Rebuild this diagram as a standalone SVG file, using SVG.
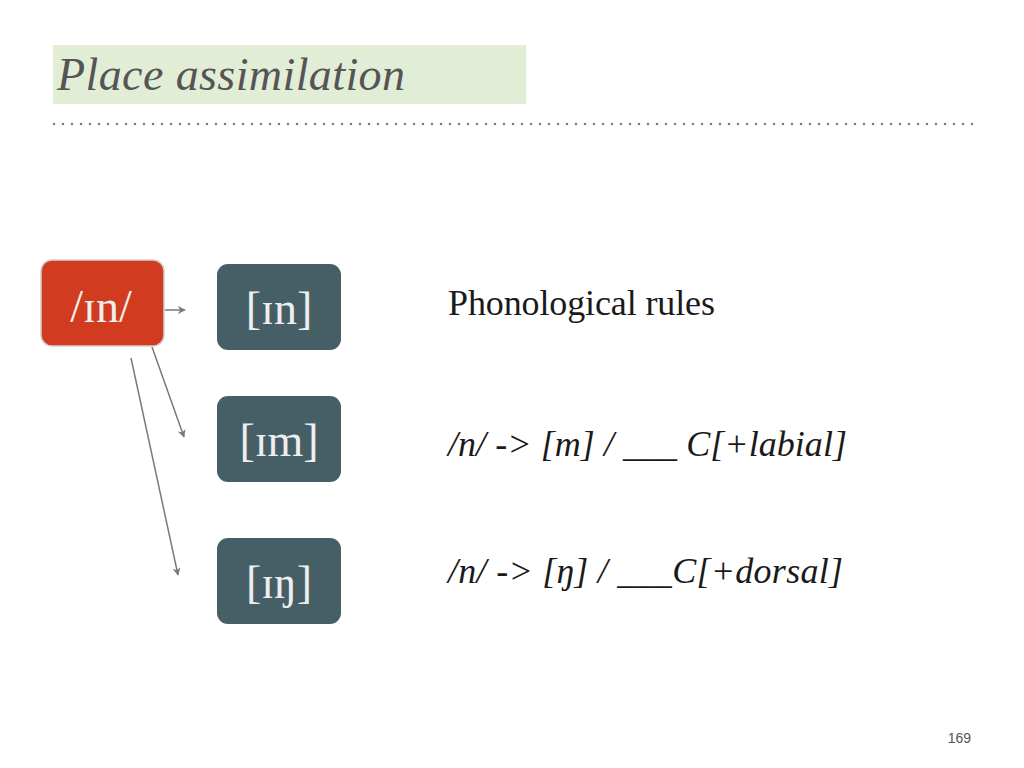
<svg xmlns="http://www.w3.org/2000/svg" width="1024" height="768" viewBox="0 0 1024 768">
<defs>
<style>
.box-red{fill:#D13C21;stroke:#D0D0D0;stroke-width:1.5}
.box-dark{fill:#465F67}
.ipa{font-family:"Liberation Serif","DejaVu Serif",serif;font-size:46px;fill:#EEEEEE;text-anchor:middle}
.rule{font-family:"Liberation Serif","DejaVu Serif",serif;font-size:36px;fill:#1A1A1A}
.conn{stroke:#7A7A7A;stroke-width:1.5;fill:none;marker-end:url(#arr)}
</style>
<marker id="arr" viewBox="0 0 10 10" refX="9" refY="5" markerWidth="8" markerHeight="8" markerUnits="userSpaceOnUse" orient="auto">
<path d="M0,0 L10,5 L0,10 L3,5 Z" fill="#7A7A7A"/>
</marker>
</defs>
<rect width="1024" height="768" fill="#FFFFFF"/>
<g id="title">
<rect x="53" y="45" width="473" height="59" fill="#E2EDD6"/>
<text x="57" y="90" font-family="'Liberation Serif','DejaVu Serif',serif" font-style="italic" font-size="46" fill="#555555" textLength="348" lengthAdjust="spacing">Place assimilation</text>
</g>
<line x1="54" y1="124" x2="974" y2="124" stroke="#7E7E7E" stroke-width="2.6" stroke-linecap="round" stroke-dasharray="0 9"/>
<g id="connectors">
<line class="conn" x1="165" y1="310" x2="185" y2="310"/>
<line class="conn" x1="152" y1="347" x2="184" y2="437"/>
<line class="conn" x1="131" y1="358" x2="178" y2="575"/>
</g>
<g id="node-in-phoneme">
<rect class="box-red" x="41" y="260" width="123" height="86" rx="11"/>
<text class="ipa" x="101" y="322">/ɪn/</text>
</g>
<g id="node-in">
<rect class="box-dark" x="217" y="264" width="124" height="86" rx="11"/>
<text class="ipa" x="279" y="324">[ɪn]</text>
</g>
<g id="node-im">
<rect class="box-dark" x="217" y="396" width="124" height="86" rx="11"/>
<text class="ipa" x="279" y="456">[ɪm]</text>
</g>
<g id="node-ing">
<rect class="box-dark" x="217" y="538" width="124" height="86" rx="11"/>
<text class="ipa" x="279" y="598">[ɪŋ]</text>
</g>
<g id="rules">
<text class="rule" x="448" y="315" textLength="267" lengthAdjust="spacing">Phonological rules</text>
<text class="rule" x="448" y="456" font-style="italic" textLength="399" lengthAdjust="spacing">/n/ -&gt; [m] / ___ C[+labial]</text>
<text class="rule" x="448" y="583" font-style="italic" textLength="395" lengthAdjust="spacing">/n/ -&gt; [ŋ] / ___C[+dorsal]</text>
</g>
<text x="971" y="743" font-family="'Liberation Sans','DejaVu Sans',sans-serif" font-size="14" fill="#555555" text-anchor="end">169</text>
</svg>
